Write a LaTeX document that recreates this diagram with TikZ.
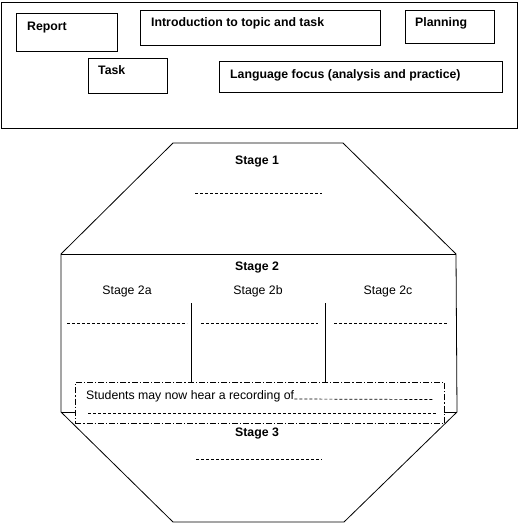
\documentclass[tikz,border=0pt]{standalone}
\usepackage{fontspec}
\setmainfont{Liberation Sans}
\begin{document}
\begin{tikzpicture}[x=1pt,y=-1pt,
  every node/.style={font=\fontsize{12.3}{14}\selectfont, inner sep=0pt},
  box/.style={draw, line width=0.8pt, minimum width=#1, inner sep=0pt},
  blbl/.style={anchor=base west, font=\fontsize{12.3}{14}\selectfont\bfseries},
  rlbl/.style={anchor=base, font=\fontsize{12.3}{14}\selectfont},
  stg/.style={anchor=base, font=\fontsize{12.3}{14}\selectfont\bfseries},
  blank/.style={dash pattern=on 3pt off 2pt, line width=0.7pt},
  edge/.style={line width=0.8pt, line join=miter}]
\useasboundingbox (0,0) rectangle (519,524);
% top panel
\node[draw, line width=0.9pt, minimum width=516, minimum height=126, anchor=north west] (panel) at (1,2) {};
\node[box=101, minimum height=38, anchor=north west] (report) at (16,13) {};
\node[blbl] (reportT) at (27,31) {Report};
\node[box=240, minimum height=35, anchor=north west] (intro) at (140,10) {};
\node[blbl] (introT) at (151,27) {Introduction to topic and task};
\node[box=89, minimum height=33, anchor=north west] (plan) at (405,10) {};
\node[blbl] (planT) at (415,27) {Planning};
\node[box=79, minimum height=35, anchor=north west] (task) at (88,58) {};
\node[blbl] (taskT) at (98,75) {Task};
\node[box=283, minimum height=31, anchor=north west] (lang) at (219,61) {};
\node[blbl] (langT) at (230,79) {Language focus (analysis and practice)};
% octagon
\draw[edge] (173,143) -- (343,143) -- (456,254) -- (457,412) -- (344,522) -- (173,522) -- (61,412) -- (61,254) -- cycle;
\draw[edge] (61,254) -- (456,254);
\draw[edge] (61,412) -- (457,412);
% stage 1
\node[stg] (s1) at (257,164) {Stage 1};
\coordinate (s1a) at (195,193); \coordinate (s1b) at (322,193);
\draw[blank] (s1a) -- (s1b);
% stage 2
\node[stg] (s2) at (257,270.5) {Stage 2};
\node[rlbl] (s2a) at (127,294) {Stage 2a};
\node[rlbl] (s2b) at (258,294) {Stage 2b};
\node[rlbl] (s2c) at (388,294) {Stage 2c};
\coordinate (v1t) at (191,303); \coordinate (v1b) at (191,390);
\coordinate (v2t) at (325,303); \coordinate (v2b) at (325,390);
\draw[edge] (v1t) -- (v1b);
\draw[edge] (v2t) -- (v2b);
\coordinate (d1a) at (67,323); \coordinate (d1b) at (187,323);
\coordinate (d2a) at (201,323); \coordinate (d2b) at (318,323);
\coordinate (d3a) at (334,323); \coordinate (d3b) at (447,323);
\draw[blank] (d1a) -- (d1b);
\draw[blank] (d2a) -- (d2b);
\draw[blank] (d3a) -- (d3b);
% recording box
\node[draw, fill=white, line width=0.8pt, dash pattern=on 6pt off 2pt on 1.2pt off 2pt, minimum width=369, minimum height=41, anchor=north west] (rec) at (75,382) {};
\node[anchor=base west, font=\fontsize{12.3}{14}\selectfont] (recT) at (86,399) {Students may now hear a recording of};
\coordinate (r1b) at (433,399.5);
\draw[blank] (recT.base east) -- (r1b);
\coordinate (r2a) at (88,413); \coordinate (r2b) at (437,413);
\draw[blank] (r2a) -- (r2b);
% stage 3
\node[stg] (s3) at (257,436) {Stage 3};
\coordinate (s3a) at (196,459); \coordinate (s3b) at (322,459);
\draw[blank] (s3a) -- (s3b);
\end{tikzpicture}
\end{document}
